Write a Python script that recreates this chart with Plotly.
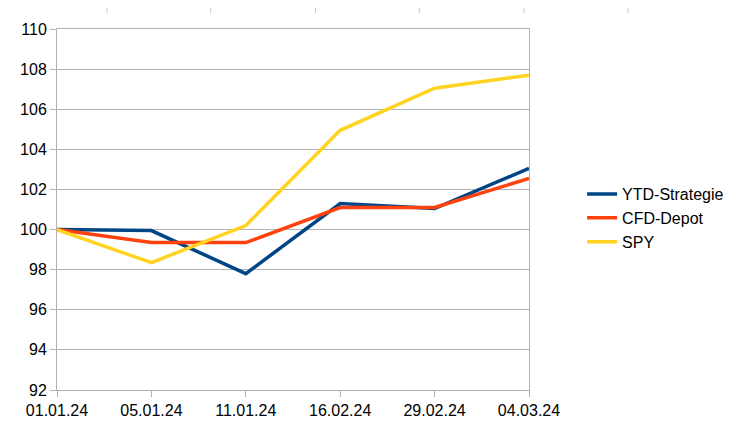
import plotly.graph_objects as go

dates = ["01.01.24", "05.01.24", "11.01.24", "16.02.24", "29.02.24", "04.03.24"]
ytd_strategie = [100.0, 99.95, 97.8, 101.3, 101.05, 103.05]
cfd_depot = [100.0, 99.35, 99.35, 101.1, 101.1, 102.55]
spy = [100.0, 98.35, 100.2, 104.95, 107.05, 107.7]

fig = go.Figure()
fig.add_trace(go.Scatter(x=dates, y=ytd_strategie, name="YTD-Strategie", mode="lines",
                         line=dict(color="#004586", width=3.5)))
fig.add_trace(go.Scatter(x=dates, y=cfd_depot, name="CFD-Depot", mode="lines",
                         line=dict(color="#ff420e", width=3.5)))
fig.add_trace(go.Scatter(x=dates, y=spy, name="SPY", mode="lines",
                         line=dict(color="#ffd320", width=3.5)))

# faint spreadsheet column borders at the top of the screenshot
shapes = []
for px in [98, 204, 311, 417, 524, 630, 736]:
    shapes.append(dict(type="line", xref="paper", yref="paper",
                       x0=(px - 47) / 482, x1=(px - 47) / 482,
                       y0=390 / 361, y1=(390 - 13) / 361,
                       line=dict(color="#c8c8c8", width=1)))

fig.update_layout(
    width=737, height=423,
    margin=dict(l=39, r=216, t=21, b=33),
    paper_bgcolor="white", plot_bgcolor="white",
    font=dict(family="Liberation Sans", size=16, color="black"),
    shapes=shapes,
    showlegend=True,
    legend=dict(x=1.1125, y=0.476, xanchor="left", yanchor="middle",
                font=dict(size=16), tracegroupgap=0, itemwidth=30),
    xaxis=dict(type="category", range=[0, 5], showgrid=False,
               showline=True, linecolor="#b3b3b3", linewidth=1, mirror=True,
               ticks="outside", ticklen=6, tickcolor="#b3b3b3",
               tickfont=dict(size=16)),
    yaxis=dict(range=[92, 110], dtick=2, showgrid=True, gridcolor="#b3b3b3",
               showline=True, linecolor="#b3b3b3", linewidth=1, mirror=True,
               ticks="outside", ticklen=6, tickcolor="#b3b3b3",
               zeroline=False, tickfont=dict(size=16)),
)

fig.write_html("out.html")
